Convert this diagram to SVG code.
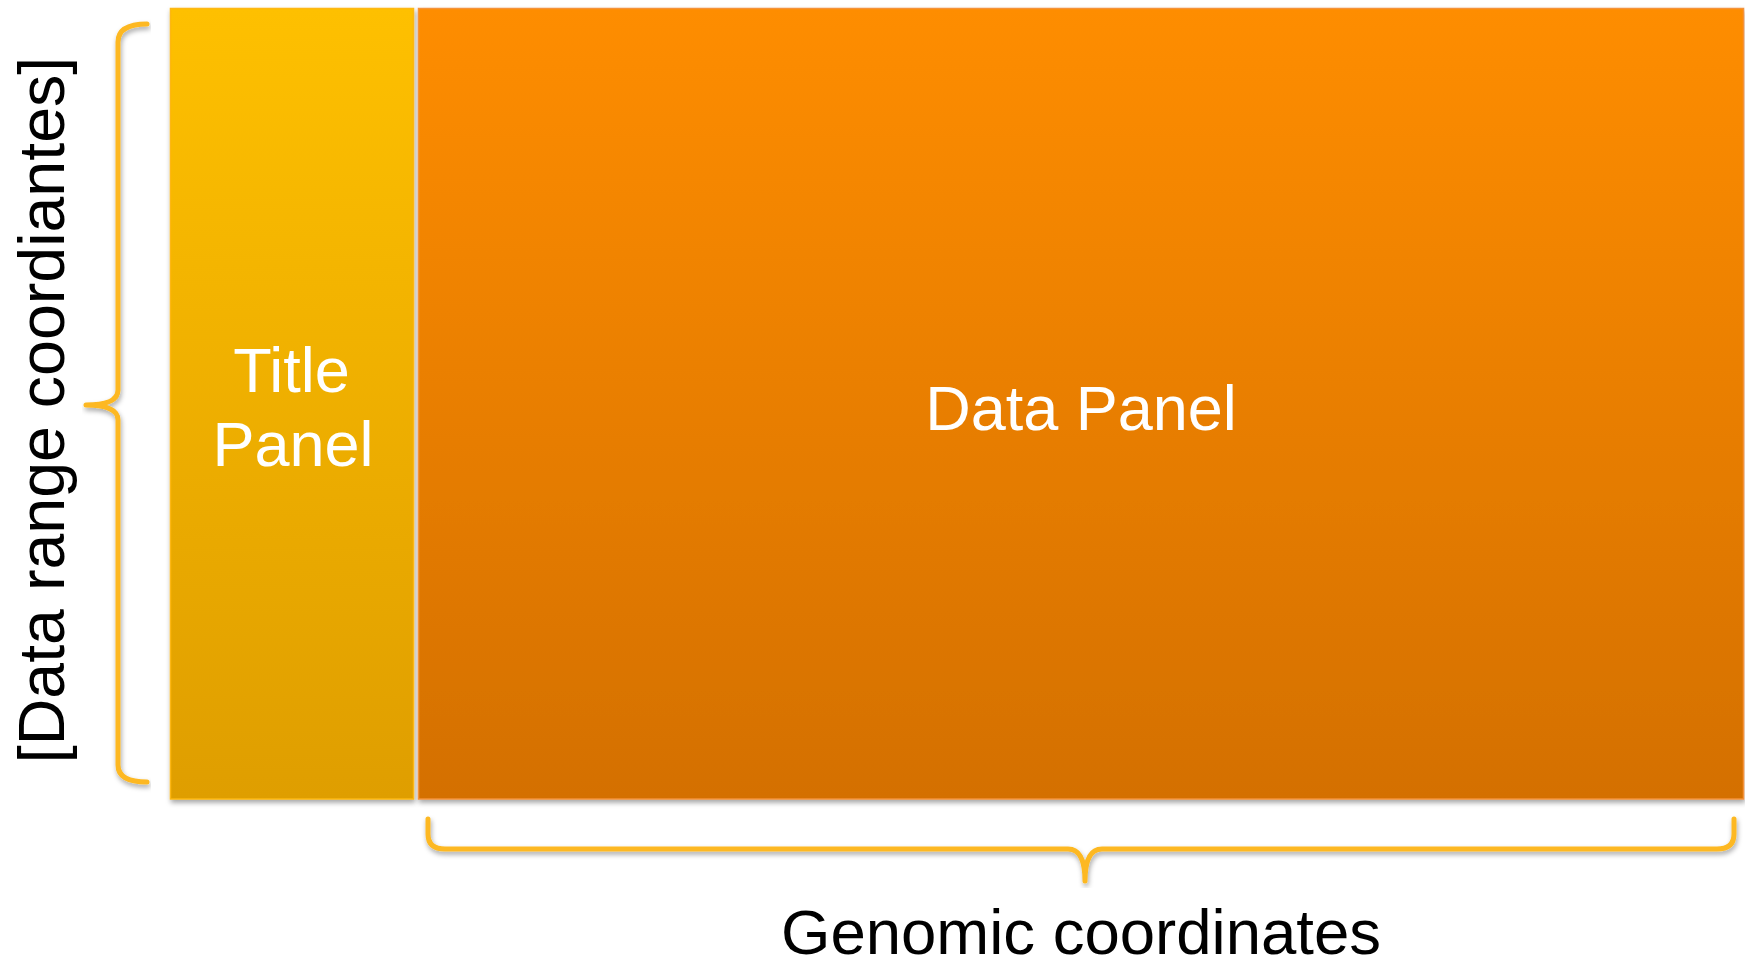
<svg xmlns="http://www.w3.org/2000/svg" width="1745" height="963" viewBox="0 0 1745 963">
<defs>
<linearGradient id="gTitle" x1="0" y1="0" x2="0" y2="1">
<stop offset="0" stop-color="#FEC000"/>
<stop offset="1" stop-color="#DF9E00"/>
</linearGradient>
<linearGradient id="gData" x1="0" y1="0" x2="0" y2="1">
<stop offset="0" stop-color="#FE8D00"/>
<stop offset="1" stop-color="#D47000"/>
</linearGradient>
<filter id="shadow" x="-5%" y="-5%" width="110%" height="115%">
<feDropShadow dx="1" dy="3" stdDeviation="2.5" flood-color="#000" flood-opacity="0.35"/>
</filter>
</defs>
<style>
.panelText{font-family:"Liberation Sans",Arial,sans-serif;font-size:63px;fill:#FFFFFF;text-anchor:middle}
.label{font-family:"Liberation Sans",Arial,sans-serif;font-size:63.5px;fill:#000000;text-anchor:middle}
.ylabel{font-size:64.5px}
.brace{fill:none;stroke:#FDB820;stroke-width:5;stroke-linecap:round;stroke-linejoin:round;filter:url(#shadow)}
</style>
<rect width="1745" height="963" fill="#FFFFFF"/>
<g id="title-panel">
<rect x="170.5" y="8.5" width="243" height="790.5" fill="url(#gTitle)" stroke="#FDB714" stroke-width="1.5" filter="url(#shadow)"/>
<text class="panelText" x="291.5" y="392">Title</text>
<text class="panelText" x="293" y="466">Panel</text>
</g>
<g id="data-panel">
<rect x="418.5" y="8.5" width="1325" height="790.5" fill="url(#gData)" stroke="#F4923A" stroke-width="1.5" filter="url(#shadow)"/>
<text class="panelText" x="1081" y="430">Data Panel</text>
</g>
<g id="connectors">
<path class="brace" d="M147,24 Q118,24 118,42 L118,390 Q118,405 86,405 Q118,405 118,420 L118,765 Q118,782 147,782"/>
<path class="brace" d="M428,819 L428,834 Q428,849 445,849 L1068,849 Q1085,849 1085,881 Q1085,849 1102,849 L1717,849 Q1734,849 1734,834 L1734,819"/>
</g>
<g id="y-label">
<text class="label ylabel" transform="translate(64,410) rotate(-90)" x="0" y="0">[Data range coordiantes]</text>
</g>
<g id="x-label">
<text class="label" x="1081" y="954">Genomic coordinates</text>
</g>
</svg>
